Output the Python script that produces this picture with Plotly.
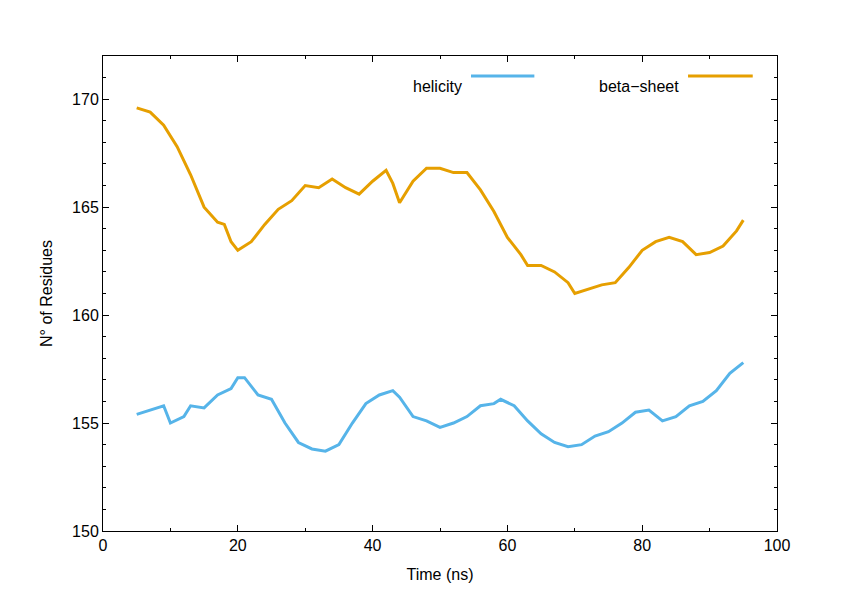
import plotly.graph_objects as go

beta_t = [5, 7, 9, 11, 13, 15, 17, 18, 19, 20, 22, 24, 26, 28, 30, 32, 34, 36, 38, 40,
          42, 43, 44, 46, 48, 50, 52, 54, 56, 58, 60, 62, 63, 65, 67, 69, 70, 72, 74, 76,
          78, 80, 82, 84, 86, 88, 90, 92, 94, 95]
beta_v = [169.6, 169.4, 168.8, 167.8, 166.5, 165.0, 164.3, 164.2, 163.4, 163.0, 163.4, 164.2,
          164.9, 165.3, 166.0, 165.9, 166.3, 165.9, 165.6, 166.2, 166.7, 166.1, 165.2, 166.2,
          166.8, 166.8, 166.6, 166.6, 165.8, 164.8, 163.6, 162.8, 162.3, 162.3, 162.0, 161.5,
          161.0, 161.2, 161.4, 161.5, 162.2, 163.0, 163.4, 163.6, 163.4, 162.8, 162.9, 163.2,
          163.9, 164.4]

helix_t = [5, 7, 9, 10, 12, 13, 15, 17, 19, 20, 21, 23, 25, 27, 29, 31, 33, 35, 37, 39,
           41, 43, 44, 46, 48, 50, 52, 54, 56, 58, 59, 61, 63, 65, 67, 69, 71, 73, 75, 77,
           79, 81, 83, 85, 87, 89, 91, 93, 95]
helix_v = [155.4, 155.6, 155.8, 155.0, 155.3, 155.8, 155.7, 156.3, 156.6, 157.1, 157.1, 156.3,
           156.1, 155.0, 154.1, 153.8, 153.7, 154.0, 155.0, 155.9, 156.3, 156.5, 156.2, 155.3,
           155.1, 154.8, 155.0, 155.3, 155.8, 155.9, 156.1, 155.8, 155.1, 154.5, 154.1, 153.9,
           154.0, 154.4, 154.6, 155.0, 155.5, 155.6, 155.1, 155.3, 155.8, 156.0, 156.5, 157.3,
           157.8]

blue = "#56b4e9"
orange = "#e69f00"

fig = go.Figure()
fig.add_trace(go.Scatter(x=helix_t, y=helix_v, mode="lines", line=dict(color=blue, width=3)))
fig.add_trace(go.Scatter(x=beta_t, y=beta_v, mode="lines", line=dict(color=orange, width=3)))

axis_common = dict(showgrid=False, zeroline=False, showline=True, linecolor="black",
                   linewidth=1, mirror="ticks", ticks="inside", ticklen=6, automargin=False,
                   tickcolor="black", tickfont=dict(size=16, color="black"))
fig.update_xaxes(range=[0, 100], dtick=20, title=dict(text="Time (ns)", font=dict(size=16)),
                 minor=dict(dtick=10, ticks="inside", ticklen=3, tickcolor="black"), **axis_common)
fig.update_yaxes(range=[150, 172], tickvals=[150, 155, 160, 165, 170],
                 title=dict(text="N° of Residues", font=dict(size=16)),
                 minor=dict(dtick=1, ticks="inside", ticklen=3, tickcolor="black"), **axis_common)

# gnuplot-style legend: text followed by line sample
for label, color, xt, x0, x1 in [("helicity", blue, 0.535, 0.546, 0.640),
                                  ("beta\u2212sheet", orange, 0.857, 0.868, 0.964)]:
    fig.add_annotation(x=xt, y=0.958, xref="paper", yref="paper", text=label,
                       showarrow=False, xanchor="right", font=dict(size=16, color="black"))
    fig.add_shape(type="line", xref="paper", yref="paper", x0=x0, x1=x1, y0=0.958, y1=0.958,
                  line=dict(color=color, width=3))

fig.update_layout(width=842, height=595, showlegend=False, plot_bgcolor="white",
                  paper_bgcolor="white",
                  font=dict(family="Liberation Sans, Arial", color="black", size=16),
                  margin=dict(l=95, r=73, t=48, b=72))
fig.write_html("out.html")
